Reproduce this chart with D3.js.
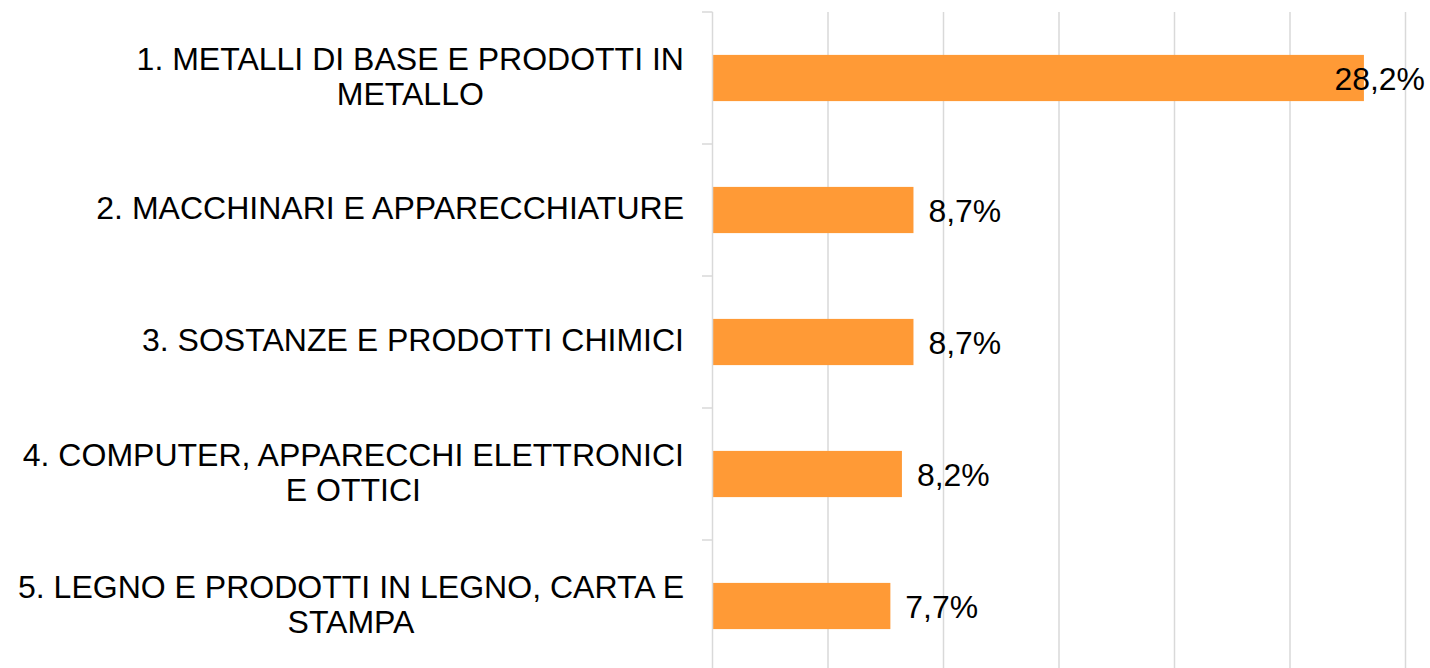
<!DOCTYPE html>
<html><head><meta charset="utf-8">
<script src="https://cdn.jsdelivr.net/npm/d3@7"></script>
<style>body{margin:0;background:#fff}svg{display:block}</style>
</head><body>
<svg id="c" width="1430" height="668"></svg>
<script>
const categories = [
  "1. METALLI DI BASE E PRODOTTI IN\nMETALLO",
  "2. MACCHINARI E APPARECCHIATURE",
  "3. SOSTANZE E PRODOTTI CHIMICI",
  "4. COMPUTER, APPARECCHI ELETTRONICI\nE OTTICI",
  "5. LEGNO E PRODOTTI IN LEGNO, CARTA E\nSTAMPA"
];
const values = [28.2, 8.7, 8.7, 8.2, 7.7];
const xTicks = [0, 5, 10, 15, 20, 25, 30];

const svg = d3.select("#c");
const font = "'Liberation Sans', Arial, sans-serif";
const x = d3.scaleLinear().domain([0, 30]).range([712.5, 1405.5]);
const y = d3.scaleBand().domain(categories).range([12, 672]).paddingInner(0.65).paddingOuter(0.325);

// gridlines
svg.append("g").selectAll("line").data(xTicks.slice(1)).join("line")
  .attr("x1", d => x(d)).attr("x2", d => x(d))
  .attr("y1", 12).attr("y2", 672)
  .attr("stroke", "#d9d9d9").attr("stroke-width", 1.5);

// bars
svg.append("g").selectAll("rect").data(values).join("rect")
  .attr("x", x(0)).attr("y", (d, i) => y(categories[i]))
  .attr("width", d => x(d) - x(0)).attr("height", y.bandwidth())
  .attr("fill", "#ff9a36");

// axis line and ticks
const tickYs = d3.range(categories.length + 1).map(i => y.range()[0] + i * y.step());
svg.append("line").attr("x1", x(0)).attr("x2", x(0)).attr("y1", 12).attr("y2", 672)
  .attr("stroke", "#d9d9d9").attr("stroke-width", 1.5);
svg.append("g").selectAll("line").data(tickYs).join("line")
  .attr("x1", 702).attr("x2", x(0)).attr("y1", d => d).attr("y2", d => d)
  .attr("stroke", "#d9d9d9").attr("stroke-width", 1.5);

// category labels
const catSize = 30.5, catSx = 1.05, lineH = 35;
categories.forEach(c => {
  const lines = c.split("\n");
  const cy = y(c) + y.bandwidth() / 2;
  const g = svg.append("g").attr("transform", `translate(684,0) scale(${catSx},1)`);
  const t = g.append("text").attr("text-anchor", "middle")
    .attr("font-family", font).attr("font-size", catSize).attr("fill", "#000");
  lines.forEach((l, j) => {
    t.append("tspan").attr("x", 0)
      .attr("y", cy + (j - (lines.length - 1) / 2) * lineH + 9.5).text(l);
  });
  const w = d3.max(t.selectAll("tspan").nodes(), n => n.getComputedTextLength());
  t.selectAll("tspan").attr("x", -w / 2);
});

// value labels
const valSize = 31, valSx = 1.03;
values.forEach((v, i) => {
  const cy = y(categories[i]) + y.bandwidth() / 2;
  const g = svg.append("g");
  const t = g.append("text").attr("x", 0).attr("y", cy + 12)
    .attr("font-family", font).attr("font-size", valSize).attr("fill", "#000")
    .text(d3.format(".1f")(v).replace(".", ",") + "%");
  const w = t.node().getComputedTextLength() * valSx;
  let tx = x(v) + 15;
  if (tx + w > 1425) tx = 1425 - w;
  g.attr("transform", `translate(${tx},0) scale(${valSx},1)`);
});
</script>
</body></html>
